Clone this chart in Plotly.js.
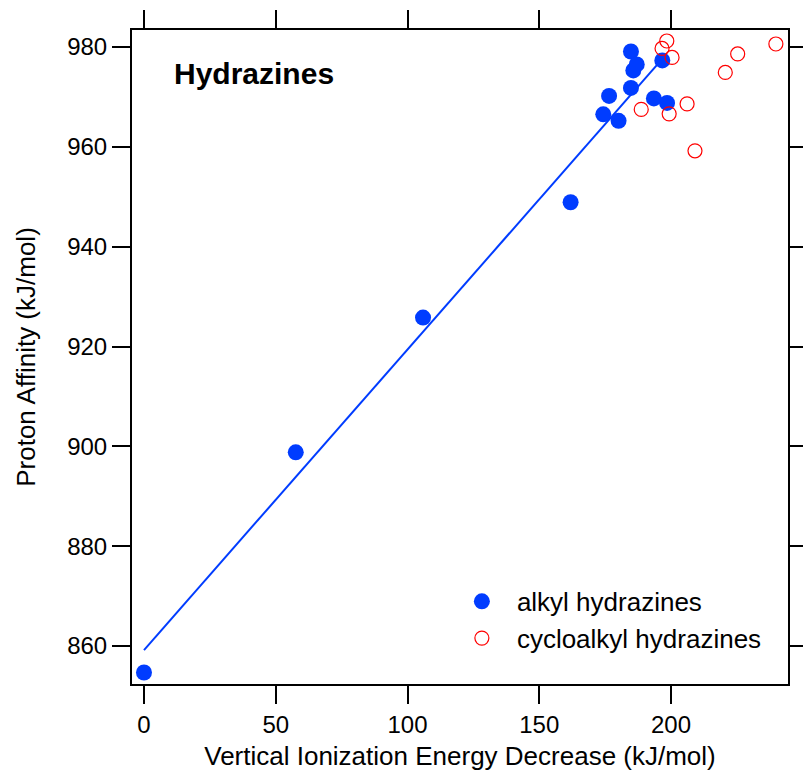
<!DOCTYPE html>
<html>
<head>
<meta charset="utf-8">
<script src="https://cdn.plot.ly/plotly-3.0.1.min.js"></script>
<style>html,body{margin:0;padding:0;background:#fff;}#chart{width:803px;height:781px;}</style>
</head>
<body>
<div id="chart"></div>
<script>
// Alkyl hydrazines (filled blue)
const alkylX = [0, 57.6, 105.9, 161.9, 174.3, 176.5, 180.1, 184.8, 184.8, 185.7, 187.0, 193.5, 196.7, 198.5];
const alkylY = [854.7, 898.8, 925.8, 948.9, 966.5, 970.2, 965.2, 979.1, 971.8, 975.3, 976.5, 969.7, 977.3, 968.8];
// Cycloalkyl hydrazines (open red)
const cycloX = [198.4, 196.6, 200.4, 225.3, 239.8, 220.6, 188.7, 199.3, 206.1, 209.1];
const cycloY = [981.2, 979.7, 977.9, 978.6, 980.6, 974.9, 967.5, 966.6, 968.6, 959.2];
// Linear fit to alkyl hydrazines
const fitX = [0, 195.2];
const fitY = [859.2, 976.7];

const xTicks = [0, 50, 100, 150, 200];
const yTicks = [860, 880, 900, 920, 940, 960, 980];

const FONT = '"Liberation Sans", Arial, Helvetica, sans-serif';
const BLUE = '#003cff';
const RED = '#ff0000';

const traces = [
  {x: fitX, y: fitY, mode: 'lines', line: {color: BLUE, width: 2}, showlegend: false, hoverinfo: 'skip'},
  {x: alkylX, y: alkylY, mode: 'markers', name: 'alkyl hydrazines',
   marker: {symbol: 'circle', size: 16, color: BLUE, line: {width: 0}}},
  {x: cycloX, y: cycloY, mode: 'markers', name: 'cycloalkyl hydrazines',
   marker: {symbol: 'circle-open', size: 14, color: RED, line: {width: 1.2, color: RED}}}
];

const axisCommon = {
  showline: true, linecolor: '#000', linewidth: 2, mirror: 'ticks',
  ticks: 'outside', ticklen: 18, tickwidth: 2, tickcolor: '#000',
  showgrid: false, zeroline: false,
  tickfont: {family: FONT, size: 24, color: '#000'}
};

const layout = {
  width: 803, height: 781,
  margin: {l: 132, r: 15, t: 30, b: 97},
  paper_bgcolor: '#fff', plot_bgcolor: '#fff',
  font: {family: FONT, color: '#000'},
  xaxis: Object.assign({}, axisCommon, {
    range: [-4.55, 244.4], tickmode: 'array', tickvals: xTicks, ticktext: xTicks.map(String),
    title: {text: 'Vertical Ionization Energy Decrease (kJ/mol)', font: {family: FONT, size: 26}, standoff: 10}
  }),
  yaxis: Object.assign({}, axisCommon, {
    range: [852.4, 983.4], tickmode: 'array', tickvals: yTicks, ticktext: yTicks.map(String),
    title: {text: 'Proton Affinity (kJ/mol)', font: {family: FONT, size: 26}, standoff: 24}
  }),
  legend: {
    x: 0.48, y: 0.098, xanchor: 'left', yanchor: 'middle',
    bgcolor: 'rgba(0,0,0,0)', borderwidth: 0, itemwidth: 60,
    font: {family: FONT, size: 26, color: '#000'}
  },
  annotations: [{
    text: '<b>Hydrazines</b>', xref: 'paper', yref: 'paper', x: 0.061, y: 0.934,
    xanchor: 'left', yanchor: 'middle', showarrow: false,
    font: {family: FONT, size: 30, color: '#000'}
  }]
};

Plotly.newPlot('chart', traces, layout, {displayModeBar: false, staticPlot: true});
</script>
</body>
</html>
